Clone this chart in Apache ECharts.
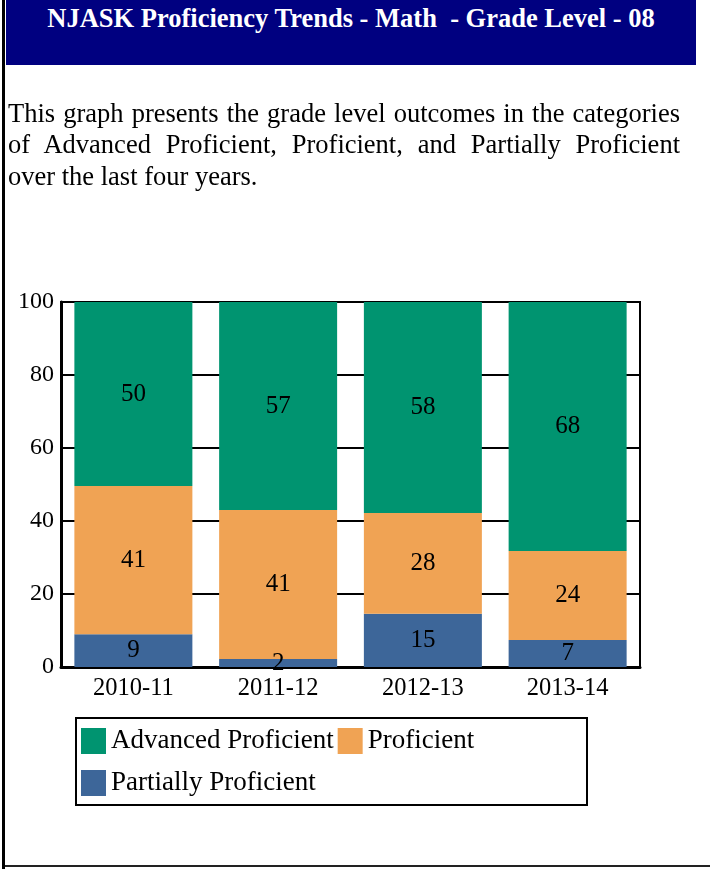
<!DOCTYPE html>
<html>
<head>
<meta charset="utf-8">
<script src="https://cdn.jsdelivr.net/npm/echarts@6/dist/echarts.min.js"></script>
<style>
  html, body { margin: 0; padding: 0; background: #fff; }
  body { width: 710px; height: 869px; position: relative; overflow: hidden; font-family: "Liberation Serif", "Times New Roman", serif; }
  #leftline { position: absolute; left: 2px; top: 0; width: 3px; height: 869px; background: #000; }
  #bottomline { position: absolute; left: 5px; top: 865px; width: 705px; height: 2px; background: #222; }
  #titlebar { position: absolute; left: 6px; top: 0; width: 690px; height: 65px; background: #000080; }
  #titletext { position: absolute; left: 0; top: 3px; width: 690px; text-align: center; color: #fff; font-weight: bold; font-size: 26.5px; line-height: 30px; white-space: pre; }
  #para { position: absolute; left: 8px; top: 97.5px; width: 672px; font-size: 26.5px; line-height: 31.5px; text-align: justify; color: #000; }
  #chart { position: absolute; left: 0; top: 0; width: 710px; height: 869px; }
</style>
</head>
<body>
<div id="chart"></div>
<div id="leftline"></div>
<div id="bottomline"></div>
<div id="titlebar"><div id="titletext">NJASK Proficiency Trends - Math  - Grade Level - 08</div></div>
<div id="para">This graph presents the grade level outcomes in the categories of Advanced Proficient, Proficient, and Partially Proficient over the last four years.</div>
<script>
const categories = ['2010-11', '2011-12', '2012-13', '2013-14'];
const partiallyProficient = [9.0, 2.2, 14.6, 7.4];
const proficient = [40.6, 40.8, 27.6, 24.4];
const advancedProficient = [50.4, 57.0, 57.8, 68.2];
const yTicks = [0, 20, 40, 60, 80, 100];

const FONT = '"Liberation Serif", "Times New Roman", serif';
const labelStyle = {
  show: true, position: 'inside', color: '#000', fontFamily: FONT, fontSize: 25,
  formatter: p => String(Math.round(p.value))
};

const chart = echarts.init(document.getElementById('chart'), null, { renderer: 'canvas' });
chart.setOption({
  backgroundColor: 'transparent',
  animation: false,
  grid: { left: 61, right: 70, top: 302, bottom: 202, show: true, borderColor: '#000', borderWidth: 2, containLabel: false },
  xAxis: {
    type: 'category', data: categories,
    axisLine: { show: true, lineStyle: { color: '#000', width: 3 } },
    axisTick: { show: false },
    axisLabel: { color: '#000', fontFamily: FONT, fontSize: 24.5, margin: 9 }
  },
  yAxis: {
    type: 'value', min: yTicks[0], max: yTicks[yTicks.length - 1], interval: 20,
    axisLine: { show: true, lineStyle: { color: '#000', width: 3 } },
    axisTick: { show: false },
    splitLine: { show: true, lineStyle: { color: '#000', width: 2 } },
    axisLabel: { color: '#000', fontFamily: FONT, fontSize: 24, margin: 7 }
  },
  legend: {
    data: ['Advanced Proficient', 'Proficient', 'Partially Proficient'],
    left: 81, top: 722, width: 420, padding: 0,
    itemWidth: 25, itemHeight: 26, itemGap: 4, icon: 'rect',
    textStyle: { color: '#000', fontFamily: FONT, fontSize: 27, lineHeight: 38, padding: [0, 0, 0, 0] }
  },
  graphic: [{
    type: 'rect', shape: { x: 76, y: 718, width: 511, height: 87 },
    style: { fill: 'none', stroke: '#000', lineWidth: 2 }, silent: true
  }],
  series: [
    { name: 'Partially Proficient', type: 'bar', stack: 'total', barWidth: 118, data: partiallyProficient, itemStyle: { color: '#3D6699' }, label: labelStyle },
    { name: 'Proficient', type: 'bar', stack: 'total', barWidth: 118, data: proficient, itemStyle: { color: '#F0A354' }, label: labelStyle },
    { name: 'Advanced Proficient', type: 'bar', stack: 'total', barWidth: 118, data: advancedProficient, itemStyle: { color: '#009470' }, label: labelStyle }
  ]
});
</script>
</body>
</html>
